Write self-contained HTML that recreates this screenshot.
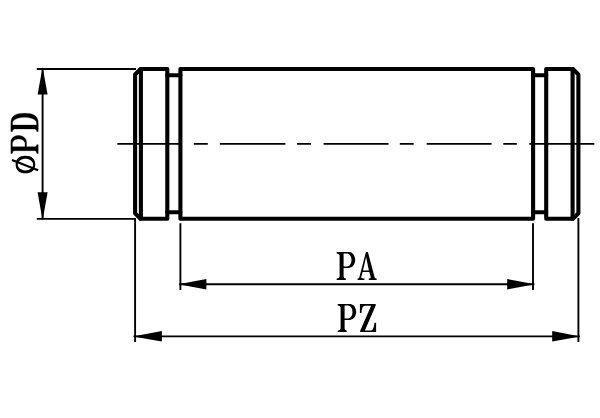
<!DOCTYPE html>
<html>
<head>
<meta charset="utf-8">
<style>
html,body{margin:0;padding:0;background:#fff;}
body{width:600px;height:418px;overflow:hidden;font-family:"Liberation Serif",serif;}
svg{display:block;}
</style>
</head>
<body>
<svg width="600" height="418" viewBox="0 0 600 418">
<defs>
  <path id="gP" fill-rule="evenodd" d="M0 -28 H12.3 C15.7 -28 18.5 -24.4 18.5 -20 C18.5 -15.6 15.4 -12 11.6 -12 H6.9 V-3.5 Q6.9 -1.6 9.1 -1.4 V0 H0 V-1.4 Q2.9 -1.6 2.9 -3.5 V-24.5 Q2.9 -26.4 0 -26.6 Z M6.9 -26.5 V-13.5 H10.3 C12.8 -13.5 14.8 -16.4 14.8 -20 C14.8 -23.6 12.8 -26.5 10.3 -26.5 Z"/>
  <path id="gA" fill-rule="evenodd" d="M8.35 -28 H10.3 L17 -2.8 Q17.4 -1.5 19 -1.4 V0 H11.2 V-1.4 Q13.5 -1.5 13.1 -3 L11.7 -7.9 H5 L3.7 -3 Q3.4 -1.5 6.9 -1.4 V0 H0 V-1.4 Q1.4 -1.5 1.8 -3 Z M5.4 -9.4 H11.3 L8.5 -23 Z"/>
  <path id="gZ" d="M0 -28 H15.8 V-26.6 L5 -1.7 H11 Q14 -1.7 14.5 -9.3 H16.2 V0 H0.3 V-1.4 L11.2 -26.3 H5 Q2 -26.3 1.6 -19.2 H0 Z"/>
  <path id="gD" fill-rule="evenodd" d="M0 -27.3 H8.5 C15.5 -27.3 18.3 -22.8 18.3 -13.65 C18.3 -4.5 15.5 0 8.5 0 H0 V-1.4 Q2.7 -1.6 2.7 -3.5 V-23.8 Q2.7 -25.7 0 -25.9 Z M6.5 -25.7 V-1.6 H8.5 C11.8 -1.6 14.3 -6.5 14.3 -13.65 C14.3 -20.8 11.8 -25.7 8.5 -25.7 Z"/>
</defs>
<rect width="600" height="418" fill="#fff"/>
<!-- thick outline -->
<g fill="none" stroke="#000" stroke-width="4.1" stroke-linejoin="round" stroke-linecap="round">
  <!-- left cap -->
  <path d="M135.1 74.5 L140.55 69.05 L167.3 69.05 L167.3 218.7 L140.55 218.7 L135.1 213.25 Z"/>
  <path d="M140.9 69.05 L140.9 218.7"/>
  <!-- grooves left -->
  <path d="M167.3 75.2 L180.4 75.2 M167.3 212.2 L180.4 212.2"/>
  <!-- body -->
  <path d="M180.4 69.05 L533.1 69.05 L533.1 218.7 L180.4 218.7 Z"/>
  <!-- grooves right -->
  <path d="M533.1 75.2 L546.2 75.2 M533.1 212.2 L546.2 212.2"/>
  <!-- right cap -->
  <path d="M578.4 74.5 L572.95 69.05 L546.2 69.05 L546.2 218.7 L572.95 218.7 L578.4 213.25 Z"/>
  <path d="M572.6 69.05 L572.6 218.7"/>
</g>
<!-- thin lines -->
<g fill="none" stroke="#000" stroke-width="1.9">
  <!-- centerline -->
  <path d="M117.3 143.85 H181.5 M193.8 143.85 H207.8 M219.8 143.85 H285.4 M297.1 143.85 H311 M323.6 143.85 H388.5 M399.8 143.85 H413.7 M426.7 143.85 H491.6 M503.3 143.85 H516.8 M529.3 143.85 H594.3"/>
  <!-- PD extension -->
  <path d="M36.8 68.95 H136 M36.8 218.85 H136"/>
  <path d="M42.6 68.9 V218.7"/>
  <!-- PZ ext -->
  <path d="M135.1 218 V341.9 M578.4 218 V341.9"/>
  <!-- PA ext -->
  <path d="M180.4 223.2 V289.9 M533 223.2 V289.9"/>
  <!-- dim lines -->
  <path d="M179.2 284.2 H534.3 M133.6 336.4 H579.8"/>
</g>
<!-- arrows -->
<g fill="#000" stroke="none">
  <path d="M42.6 67 L47.6 94.6 L37.6 94.6 Z"/>
  <path d="M42.6 220.6 L47.6 192.3 L37.6 192.3 Z"/>
  <path d="M178.5 284.2 L206.4 279 L206.4 289.4 Z"/>
  <path d="M535 284.2 L507.2 279 L507.2 289.4 Z"/>
  <path d="M132.8 336.4 L161.9 331 L161.9 341.6 Z"/>
  <path d="M580.1 336.4 L552.2 331 L552.2 341.6 Z"/>
</g>
<!-- text -->
<g fill="#000">
  <use href="#gP" transform="translate(336.7 280)"/>
  <use href="#gA" transform="translate(357.6 280)"/>
  <use href="#gP" transform="translate(337.7 332.1)"/>
  <use href="#gZ" transform="translate(359.9 332.1)"/>
  <use href="#gP" transform="translate(38.2 153.5) rotate(-90) scale(0.975 0.975)" stroke="#000" stroke-width="0.35"/>
  <use href="#gD" transform="translate(38.2 131.6) rotate(-90)" stroke="#000" stroke-width="0.35"/>
</g>
<!-- phi -->
<path fill="#000" fill-rule="evenodd" d="M15.65 164.55 C15.65 159.01 19.28 155.75 25.45 155.75 C31.62 155.75 35.25 159.01 35.25 164.55 C35.25 170.09 31.62 173.35 25.45 173.35 C19.28 173.35 15.65 170.09 15.65 164.55 Z M17.8 164.55 C17.8 161.27 21.17 158.7 25.45 158.7 C29.73 158.7 33.1 161.27 33.1 164.55 C33.1 167.83 29.73 170.4 25.45 170.4 C21.17 170.4 17.8 167.83 17.8 164.55 Z"/>
<path d="M12 159.9 L38.1 170.3" stroke="#000" stroke-width="2.2" fill="none"/>
</svg>
</body>
</html>
